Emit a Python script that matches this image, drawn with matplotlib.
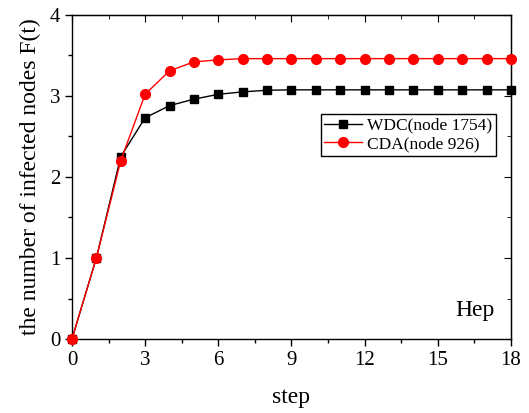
import matplotlib
matplotlib.use("Agg")
import matplotlib.pyplot as plt
from matplotlib.ticker import MultipleLocator

steps = list(range(19))
wdc = [0, 1.0, 2.25, 2.73, 2.88, 2.96, 3.02, 3.05, 3.07, 3.075, 3.075, 3.075, 3.075, 3.075, 3.075, 3.075, 3.075, 3.075, 3.075]
cda = [0, 1.0, 2.20, 3.02, 3.31, 3.42, 3.445, 3.46, 3.46, 3.46, 3.46, 3.46, 3.46, 3.46, 3.46, 3.46, 3.46, 3.46, 3.46]

plt.rcParams['font.family'] = ['Liberation Serif', 'DejaVu Serif']

fig = plt.figure(figsize=(5.29, 4.13), dpi=100)
ax = fig.add_axes([0.136, 0.179, 0.830, 0.785])

ax.plot(steps, wdc, color='black', marker='s', markersize=6, linewidth=1, label='WDC(node 1754)', clip_on=False, zorder=3)
ax.plot(steps, cda, color='red', marker='o', markersize=7, linewidth=1, label='CDA(node 926)', clip_on=False, zorder=4)

ax.set_xlim(0, 18)
ax.set_ylim(0, 4)
ax.xaxis.set_major_locator(MultipleLocator(3))
ax.xaxis.set_minor_locator(MultipleLocator(1.5))
ax.yaxis.set_major_locator(MultipleLocator(1))
ax.yaxis.set_minor_locator(MultipleLocator(0.5))

ax.tick_params(which='both', direction='out', top=False, right=False, labelsize=15, width=1)
ax.tick_params(which='major', length=5)
ax.tick_params(which='minor', length=3)
for s in ax.spines.values():
    s.set_linewidth(1)

ax2 = ax.secondary_xaxis('top')
ax2.xaxis.set_major_locator(MultipleLocator(3))
ax2.xaxis.set_minor_locator(MultipleLocator(1.5))
ax2.tick_params(which='both', direction='in', labeltop=False)
ax2.tick_params(which='major', length=5)
ax2.tick_params(which='minor', length=3)
ax3 = ax.secondary_yaxis('right')
ax3.yaxis.set_major_locator(MultipleLocator(1))
ax3.yaxis.set_minor_locator(MultipleLocator(0.5))
ax3.tick_params(which='both', direction='in', labelright=False)
ax3.tick_params(which='major', length=5)
ax3.tick_params(which='minor', length=3)

ax.set_xlabel('step', fontsize=17, labelpad=12)
ax.set_ylabel('the number of infected nodes F(t)', fontsize=17, labelpad=6)

leg = ax.legend(loc='upper right', bbox_to_anchor=(0.966, 0.694), fontsize=12.5, frameon=True, fancybox=False,
                framealpha=1, edgecolor='black', borderpad=0.2, labelspacing=0.15, handlelength=2.2,
                handletextpad=0.3, borderaxespad=0)
leg.get_frame().set_linewidth(1)
leg.set_zorder(5)

ax.text(0.962, 0.055, 'Hep', transform=ax.transAxes, ha='right', va='bottom', fontsize=17)

fig.savefig('out.png', dpi=100)
